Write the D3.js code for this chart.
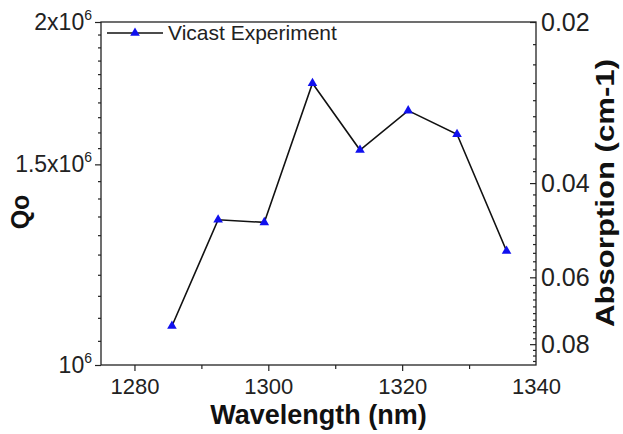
<!DOCTYPE html>
<html>
<head>
<meta charset="utf-8">
<script src="https://cdn.jsdelivr.net/npm/d3@7"></script>
<style>
  body { margin: 0; background: #fff; }
  text { font-family: "Liberation Sans", Arial, sans-serif; }
</style>
</head>
<body>
<script>
// data
var wavelength = [1285.6, 1292.5, 1299.4, 1306.6, 1313.7, 1320.9, 1328.2, 1335.6];
var qo = [1.082e6, 1.341e6, 1.334e6, 1.767e6, 1.544e6, 1.672e6, 1.594e6, 1.259e6];
var xTicks = [1280, 1300, 1320, 1340];
var xMinor = [1290, 1310, 1330];
var qTicks = [1e6, 1.5e6, 2e6];
var qTickLabels = [["10", "6"], ["1.5x10", "6"], ["2x10", "6"]];
var absTicks = [0.02, 0.04, 0.06, 0.08];
var absTickLabels = ["0.02", "0.04", "0.06", "0.08"];
var legendLabel = "Vicast Experiment";

var W = 623, H = 434;
var margin = {top: 22, right: 87, bottom: 69, left: 101},
    width = W - margin.left - margin.right,
    height = H - margin.top - margin.bottom;

var svg = d3.select("body").append("svg")
    .attr("width", W)
    .attr("height", H);

var g = svg.append("g")
    .attr("transform", "translate(" + margin.left + "," + margin.top + ")");

var x = d3.scaleLinear().domain([1275, 1340]).range([0, width]);
var y = d3.scaleLog().domain([1e6, 2e6]).range([height, 0]);
// right axis: absorption on a log scale, growing downwards
var y2 = d3.scaleLog().domain([0.02, 0.0875]).range([0, height]);

// frame
g.append("rect")
    .attr("width", width)
    .attr("height", height)
    .attr("fill", "none")
    .attr("stroke", "#222")
    .attr("stroke-width", 1.3);

// bottom axis
var xAxis = g.append("g").attr("transform", "translate(0," + height + ")");
xAxis.call(d3.axisBottom(x).tickValues(xTicks).tickSize(6).tickFormat(d3.format("d")));
xAxis.selectAll(".tick").filter(function(d) { return d === 1340; }).select("line").remove();
g.append("g").attr("transform", "translate(0," + height + ")")
    .call(d3.axisBottom(x).tickValues(xMinor).tickSize(4).tickFormat(""));

// left axis
var minorQ = d3.range(1.05e6, 1.999e6, 0.05e6).filter(function(v) { return Math.abs(v - 1.5e6) > 1; });
var yAxis = g.append("g")
    .call(d3.axisLeft(y).tickValues(qTicks).tickSize(6).tickFormat(""));
g.append("g")
    .call(d3.axisLeft(y).tickValues(minorQ).tickSize(3).tickFormat(""));
yAxis.selectAll(".tick text").remove();
qTicks.forEach(function(v, i) {
  var t = g.append("text")
      .attr("x", -9)
      .attr("y", y(v) + 8)
      .attr("text-anchor", "end")
      .attr("font-size", 23)
      .attr("fill", "#222");
  t.append("tspan").text(qTickLabels[i][0]);
  t.append("tspan").attr("dy", -10).attr("font-size", 14).text(qTickLabels[i][1]);
});

// right axis, ticks pointing in
var minorA = d3.range(0.022, 0.0875, 0.002).filter(function(v) {
  return absTicks.every(function(t) { return Math.abs(t - v) > 1e-6; });
});
var rAxis = g.append("g").attr("transform", "translate(" + width + ",0)");
rAxis.call(d3.axisLeft(y2).tickValues(absTicks).tickSize(6).tickFormat(""));
g.append("g").attr("transform", "translate(" + width + ",0)")
    .call(d3.axisLeft(y2).tickValues(minorA).tickSize(3).tickFormat(""));
absTicks.forEach(function(v, i) {
  g.append("text")
      .attr("x", width + 5)
      .attr("y", y2(v) + 9)
      .attr("font-size", 25)
      .attr("fill", "#222")
      .text(absTickLabels[i]);
});

g.selectAll(".domain").remove();
g.selectAll(".tick line").attr("stroke", "#222").attr("stroke-width", 1.2);
xAxis.selectAll(".tick text")
    .attr("font-size", 22)
    .attr("fill", "#222")
    .attr("dy", "0.9em")
    .attr("font-family", "Liberation Sans, Arial, sans-serif");

// the series
var line = d3.line()
    .x(function(d, i) { return x(wavelength[i]); })
    .y(function(d) { return y(d); });

g.append("path")
    .datum(qo)
    .attr("d", line)
    .attr("fill", "none")
    .attr("stroke", "#111")
    .attr("stroke-width", 1.6);

var tri = d3.symbol().type(d3.symbolTriangle).size(40);
g.selectAll(".pt")
    .data(qo)
    .enter().append("path")
    .attr("class", "pt")
    .attr("d", tri)
    .attr("fill", "#1010ee")
    .attr("transform", function(d, i) { return "translate(" + x(wavelength[i]) + "," + y(d) + ")"; });

// legend
var lg = g.append("g").attr("transform", "translate(6,11)");
lg.append("line").attr("x1", 0).attr("x2", 56).attr("stroke", "#111").attr("stroke-width", 1.6);
lg.append("path").attr("d", tri).attr("fill", "#1010ee").attr("transform", "translate(28,0)");
lg.append("text")
    .attr("x", 61)
    .attr("y", 7)
    .attr("font-size", 21)
    .attr("fill", "#222")
    .text(legendLabel);

// axis titles
svg.append("text")
    .attr("x", margin.left + width / 2)
    .attr("y", 424)
    .attr("text-anchor", "middle")
    .attr("font-size", 27)
    .attr("font-weight", "bold")
    .attr("fill", "#111")
    .text("Wavelength (nm)");

svg.append("text")
    .attr("transform", "translate(29,212) rotate(-90)")
    .attr("text-anchor", "middle")
    .attr("font-size", 25)
    .attr("font-weight", "bold")
    .attr("fill", "#111")
    .text("Qo");

svg.append("text")
    .attr("transform", "translate(614,193) rotate(-90)")
    .attr("text-anchor", "middle")
    .attr("font-size", 26)
    .attr("font-weight", "bold")
    .attr("fill", "#111")
    .attr("textLength", 268)
    .attr("lengthAdjust", "spacingAndGlyphs")
    .text("Absorption (cm-1)");
</script>
</body>
</html>
